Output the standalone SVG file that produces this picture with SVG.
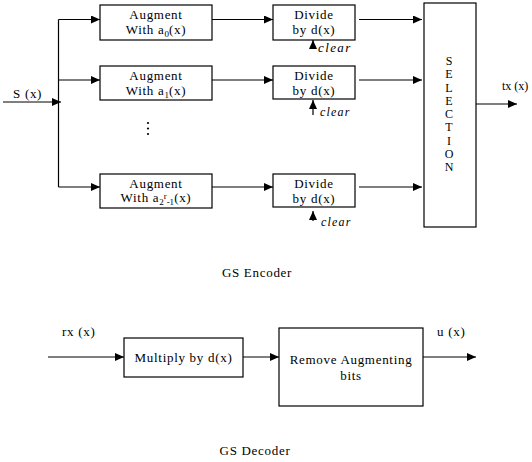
<svg xmlns="http://www.w3.org/2000/svg" width="532" height="462" viewBox="0 0 532 462">
<defs>
<marker id="ah" markerWidth="9" markerHeight="8" refX="9" refY="4" orient="auto" markerUnits="userSpaceOnUse">
<path d="M0,0 L9,4 L0,8 z" fill="#000"/>
</marker>
<style>
.box{fill:#fff;stroke:#000;stroke-width:1.2}
.ln{fill:none;stroke:#000;stroke-width:1.2}
.ar{fill:none;stroke:#000;stroke-width:1.2;marker-end:url(#ah)}
text{font-family:"Liberation Serif","Times New Roman",serif;font-size:13px;letter-spacing:0.7px;fill:#000}
.c{text-anchor:middle}
.it{font-style:italic;font-size:13px;letter-spacing:1.4px}
.sm{font-size:9px;letter-spacing:0}
.sel{font-size:12px;letter-spacing:0}
</style>
</defs>
<rect width="532" height="462" fill="#fff"/>

<g id="connectors">
<line class="ar" x1="3" y1="102" x2="61" y2="102"/>
<line class="ln" x1="58.5" y1="19.5" x2="58.5" y2="187"/>
<line class="ar" x1="58.5" y1="19.5" x2="100" y2="19.5"/>
<line class="ar" x1="58.5" y1="80" x2="100" y2="80"/>
<line class="ar" x1="58.5" y1="187" x2="100" y2="187"/>
<line class="ar" x1="212" y1="19.5" x2="273" y2="19.5"/>
<line class="ar" x1="212" y1="80" x2="273" y2="80"/>
<line class="ar" x1="212" y1="187" x2="273" y2="187"/>
<line class="ar" x1="359" y1="19.5" x2="422" y2="19.5"/>
<line class="ar" x1="359" y1="80" x2="422" y2="80"/>
<line class="ar" x1="359" y1="187" x2="422" y2="187"/>
<line class="ar" x1="476" y1="104" x2="517" y2="104"/>
<line class="ar" x1="313" y1="49" x2="313" y2="40"/>
<line class="ar" x1="313" y1="115" x2="313" y2="100"/>
<line class="ar" x1="313" y1="221" x2="313" y2="211"/>
<line class="ar" x1="48" y1="357" x2="124" y2="357"/>
<line class="ar" x1="243" y1="357" x2="279" y2="357"/>
<line class="ar" x1="423" y1="357" x2="476" y2="357"/>
</g>

<g id="labels">
<text x="13" y="98">S (x)</text>
<text x="502" y="90" style="font-size:12px;letter-spacing:0">tx (x)</text>
<text class="it" x="318" y="52">clear</text>
<text class="it" x="320" y="116" style="font-size:12px;letter-spacing:1.2px">clear</text>
<text class="it" x="321" y="226" style="font-size:12px;letter-spacing:1.2px">clear</text>
<circle cx="148" cy="123" r="1.1"/>
<circle cx="148" cy="128.5" r="1.1"/>
<circle cx="148" cy="134" r="1.1"/>
<text x="62" y="336">rx (x)</text>
<text x="437" y="336">u (x)</text>
<text class="c" x="257" y="277">GS Encoder</text>
<text class="c" x="255" y="455">GS Decoder</text>
</g>

<g id="augment0">
<rect class="box" x="100" y="5" width="112" height="35"/>
<text class="c" x="156" y="19">Augment</text>
<text class="c" x="156" y="34">With a<tspan class="sm" dy="3">0</tspan><tspan dy="-3">(x)</tspan></text>
</g>
<g id="augment1">
<rect class="box" x="100" y="66" width="112" height="34"/>
<text class="c" x="156" y="80">Augment</text>
<text class="c" x="156" y="95">With a<tspan class="sm" dy="3">1</tspan><tspan dy="-3">(x)</tspan></text>
</g>
<g id="augment2">
<rect class="box" x="100" y="174" width="112" height="34"/>
<text class="c" x="156" y="188">Augment</text>
<text class="c" x="156" y="202">With a<tspan class="sm" dy="3">2</tspan><tspan class="sm" dy="-6">r</tspan><tspan class="sm" dy="6">-1</tspan><tspan dy="-3">(x)</tspan></text>
</g>

<g id="divide0">
<rect class="box" x="273" y="5" width="82" height="35"/>
<text class="c" x="314" y="19">Divide</text>
<text class="c" x="314" y="34">by d(x)</text>
</g>
<g id="divide1">
<rect class="box" x="273" y="66" width="82" height="33"/>
<text class="c" x="314" y="80">Divide</text>
<text class="c" x="314" y="95">by d(x)</text>
</g>
<g id="divide2">
<rect class="box" x="273" y="174" width="82" height="33"/>
<text class="c" x="314" y="188">Divide</text>
<text class="c" x="314" y="203">by d(x)</text>
</g>

<g id="selection">
<rect class="box" x="424" y="3" width="52" height="224"/>
<text class="c sel" x="449" y="65">S</text>
<text class="c sel" x="449" y="78.25">E</text>
<text class="c sel" x="449" y="91.5">L</text>
<text class="c sel" x="449" y="104.75">E</text>
<text class="c sel" x="449" y="118">C</text>
<text class="c sel" x="449" y="131.25">T</text>
<text class="c sel" x="449" y="144.5">I</text>
<text class="c sel" x="449" y="157.75">O</text>
<text class="c sel" x="449" y="171">N</text>
</g>

<g id="multiply">
<rect class="box" x="124" y="338" width="119" height="39"/>
<text class="c" x="183.5" y="362">Multiply by d(x)</text>
</g>
<g id="remove">
<rect class="box" x="279" y="328" width="144" height="78"/>
<text class="c" x="351" y="364">Remove Augmenting</text>
<text class="c" x="351" y="380">bits</text>
</g>
</svg>
